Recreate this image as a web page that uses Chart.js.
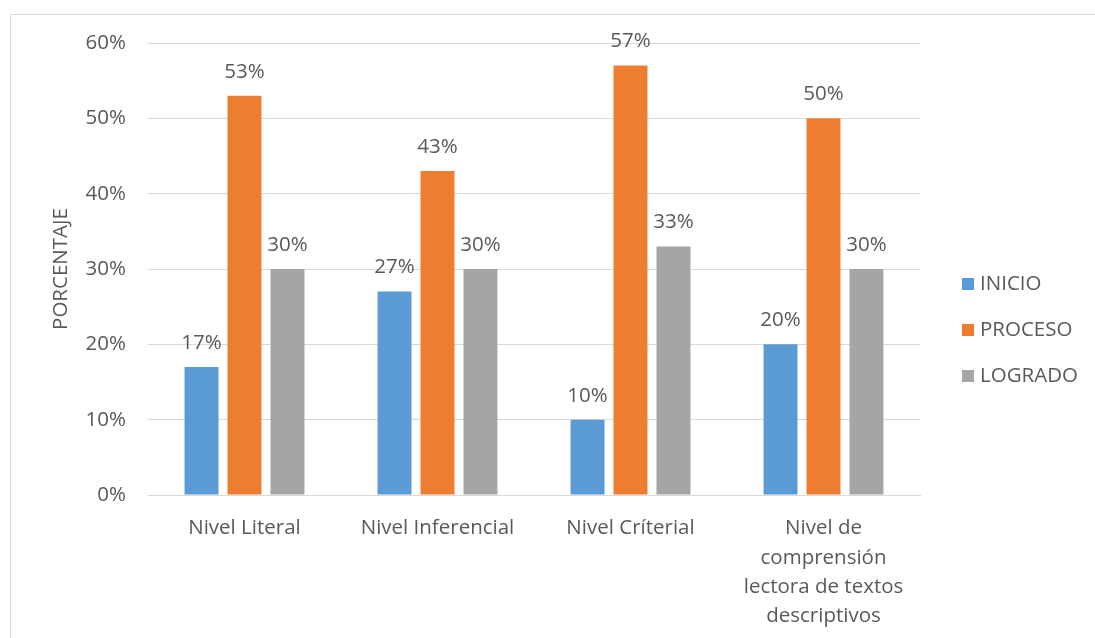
<!DOCTYPE html>
<html>
<head>
<meta charset="utf-8">
<script src="https://cdn.jsdelivr.net/npm/chart.js@4/dist/chart.umd.min.js"></script>
<style>
  html, body { margin: 0; padding: 0; background: #fff; overflow: hidden; }
  #frame { position: absolute; left: 10px; top: 14px; width: 1100px; height: 640px;
           border-top: 1px solid #d9d9d9; border-left: 1px solid #d9d9d9; }
  #wrap { position: absolute; left: 0; top: 0; width: 1095px; height: 638px; }
</style>
</head>
<body>
<div id="frame"></div>
<div id="wrap"><canvas id="myChart" width="1095" height="638"></canvas></div>
<script>
const CATEGORIES = [
  "Nivel Literal",
  "Nivel Inferencial",
  "Nivel Críterial",
  ["Nivel de", "comprensión", "lectora de textos", "descriptivos"]
];
const SERIES_NAMES = ["INICIO", "PROCESO", "LOGRADO"];
const INICIO  = [17, 27, 10, 20];
const PROCESO = [53, 43, 57, 50];
const LOGRADO = [30, 30, 33, 30];
const Y_TICKS = [0, 10, 20, 30, 40, 50, 60];

const COLORS   = ["#5B9BD5", "#ED7D31", "#A5A5A5"];
const TEXT     = "#595959";
const FONT     = "'Open Sans', 'Segoe UI', sans-serif";
const FONTSIZE = 20.5;

// labels above bars
const valueLabels = {
  id: "valueLabels",
  afterDatasetsDraw (chart) {
    let ctx = chart.ctx;
    ctx.save();
    ctx.font = `${FONTSIZE}px ${FONT}`;
    ctx.fillStyle = TEXT;
    ctx.textAlign = "center";
    ctx.textBaseline = "middle";
    chart.data.datasets.forEach((ds, i) => {
      chart.getDatasetMeta(i).data.forEach((bar, j) => {
        ctx.fillText(ds.data[j] + "%", bar.x, bar.y - 24);
      });
    });
    ctx.restore();
  }
};

// legend to the right, same as the spreadsheet one
const sideLegend = {
  id: "sideLegend",
  afterDraw (chart) {
    let ctx = chart.ctx;
    ctx.save();
    ctx.font = `${FONTSIZE}px ${FONT}`;
    ctx.textBaseline = "middle";
    chart.data.datasets.forEach((ds, i) => {
      let y = 284 + i * 46;
      ctx.fillStyle = ds.backgroundColor;
      ctx.fillRect(962, y - 6, 12, 12);
      ctx.fillStyle = TEXT;
      ctx.textAlign = "left";
      ctx.fillText(ds.label, 980, y);
    });
    ctx.restore();
  }
};

let ctx = document.getElementById("myChart");
let chart = new Chart(ctx, {
  type: "bar",
  data: {
    labels: CATEGORIES,
    datasets: [
      { label: SERIES_NAMES[0], data: INICIO,  backgroundColor: COLORS[0] },
      { label: SERIES_NAMES[1], data: PROCESO, backgroundColor: COLORS[1] },
      { label: SERIES_NAMES[2], data: LOGRADO, backgroundColor: COLORS[2] }
    ]
  },
  options: {
    responsive: false,
    animation: false,
    events: [],
    layout: { padding: { top: 43, right: 175, left: 0, bottom: 0 } },
    datasets: {
      bar: { categoryPercentage: 0.668, barPercentage: 0.79 }
    },
    plugins: {
      legend: { display: false },
      tooltip: { enabled: false }
    },
    scales: {
      x: {
        grid: { display: false, drawTicks: false },
        border: { color: "#d9d9d9", width: 1 },
        ticks: {
          color: TEXT, padding: 19, maxRotation: 0, autoSkip: false,
          font: { family: FONT, size: FONTSIZE, lineHeight: 1.42 }
        },
        afterFit: (scale) => { scale.height = 638 - 495; }
      },
      y: {
        min: 0, max: 60,
        afterBuildTicks: (scale) => { scale.ticks = Y_TICKS.map(v => ({ value: v })); },
        grid: { color: "#d9d9d9", drawTicks: false },
        border: { display: false },
        ticks: {
          color: TEXT, padding: 22,
          font: { family: FONT, size: FONTSIZE },
          callback: (v) => v + "%"
        },
        title: {
          display: true, text: "PORCENTAJE", color: TEXT,
          font: { family: FONT, size: FONTSIZE },
          padding: { top: 49, bottom: 0 }
        },
        afterFit: (scale) => { scale.width = 148; }
      }
    }
  },
  plugins: [valueLabels, sideLegend]
});
</script>
</body>
</html>
